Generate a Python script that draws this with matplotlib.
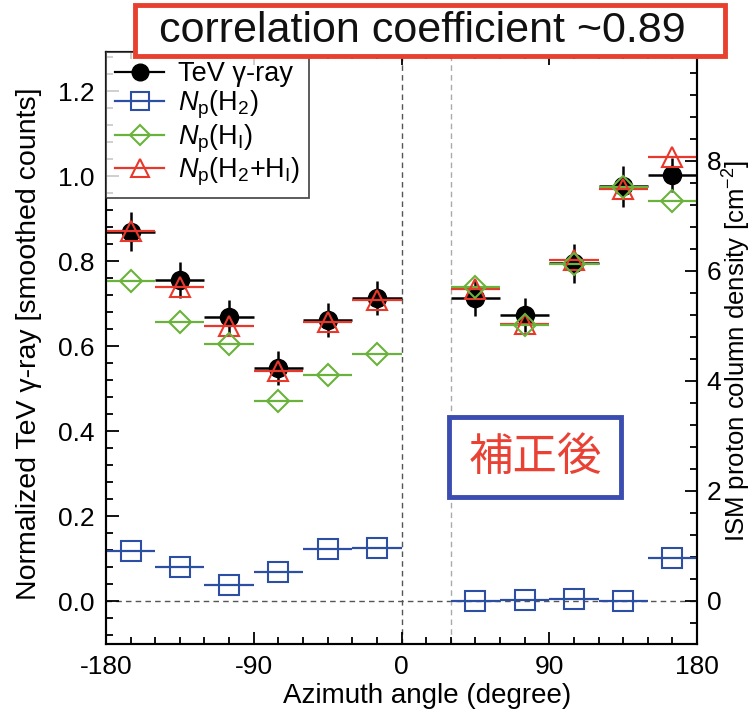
import matplotlib
matplotlib.use("Agg")
import matplotlib.pyplot as plt
from matplotlib.lines import Line2D
from matplotlib.patches import Rectangle
from matplotlib.ticker import MultipleLocator

plt.rcParams['font.family'] = ['Liberation Sans', 'DejaVu Sans']
plt.rcParams['mathtext.fontset'] = 'custom'
plt.rcParams['mathtext.rm'] = 'Liberation Sans'
plt.rcParams['mathtext.it'] = 'Liberation Sans:italic'

# ---- data ----
azimuth = [-165, -135, -105, -75, -45, -15, 45, 75, 105, 135, 165]
bin_half = [15] * 11
tev = [0.869, 0.755, 0.669, 0.548, 0.661, 0.713, 0.713, 0.673, 0.795, 0.976, 1.002]
tev_err = [0.046, 0.042, 0.040, 0.040, 0.040, 0.040, 0.043, 0.041, 0.046, 0.048, 0.040]
np_h2 = [0.91, 0.61, 0.29, 0.53, 0.95, 0.96, 0.00, 0.01, 0.04, 0.00, 0.78]
np_hi = [5.82, 5.08, 4.67, 3.64, 4.11, 4.49, 5.71, 5.02, 6.13, 7.52, 7.27]
np_h2hi = [6.73, 5.71, 4.99, 4.18, 5.08, 5.47, 5.68, 5.04, 6.19, 7.49, 8.08]

xticks = [-180, -90, 0, 90, 180]
left_ticks = [0.0, 0.2, 0.4, 0.6, 0.8, 1.0, 1.2]
right_ticks = [0, 2, 4, 6, 8]

C_BLACK = '#000000'
C_BLUE = '#2d4fa3'
C_GREEN = '#6ab23c'
C_RED = '#e8382c'

W, H = 753, 715
fig = plt.figure(figsize=(W / 100, H / 100), dpi=100)
ax = fig.add_axes([106 / W, (H - 644) / H, 591 / W, 592 / H])
ax2 = ax.twinx()

ax.set_xlim(-180, 180)
ax.set_ylim(-0.101, 1.292)
ax2.set_ylim(-0.782, 9.98)

# reference lines
ax.axhline(0, color='#555555', ls=(0, (4, 3)), lw=1.0, zorder=1)
ax.axvline(0, color='#555555', ls=(0, (4, 3)), lw=1.0, zorder=1)
ax.axvline(30, color='#aaaaaa', ls=(0, (4, 3)), lw=1.0, zorder=1)

ax.errorbar(azimuth, tev, xerr=bin_half, yerr=tev_err, fmt='o', color=C_BLACK,
            ms=13, elinewidth=1.8, capsize=0, zorder=3)
ax2.errorbar(azimuth, np_h2, xerr=bin_half, fmt='s', color=C_BLUE, mfc='none',
             mec=C_BLUE, ms=14, mew=1.5, elinewidth=1.6, capsize=0)
ax2.errorbar(azimuth, np_h2hi, xerr=bin_half, fmt='^', color=C_RED, mfc='none',
             mec=C_RED, ms=14, mew=1.5, elinewidth=1.6, capsize=0)
ax2.errorbar(azimuth, np_hi, xerr=bin_half, fmt='D', color=C_GREEN, mfc='none',
             mec=C_GREEN, ms=11, mew=1.5, elinewidth=1.6, capsize=0)

# ticks
ax.set_xticks(xticks)
ax.set_xticklabels(['-180', '-90', '0', '90', '180'])
ax.xaxis.set_minor_locator(MultipleLocator(15))
ax.set_yticks(left_ticks)
ax.set_yticklabels(['%.1f' % v for v in left_ticks])
ax.yaxis.set_minor_locator(MultipleLocator(0.04))
ax2.set_yticks(right_ticks)
ax2.yaxis.set_minor_locator(MultipleLocator(0.4))

ax.tick_params(axis='x', which='both', direction='in', top=True, bottom=True,
               labelsize=19, pad=8, width=1.3)
ax.tick_params(axis='y', which='both', direction='in', left=True, right=False,
               labelsize=19, pad=8, width=1.3)
ax.tick_params(which='major', length=9)
ax.tick_params(which='minor', length=5)
ax2.tick_params(axis='y', which='both', direction='in', labelsize=19, pad=7, width=1.3)
ax2.tick_params(which='major', length=9)
ax2.tick_params(which='minor', length=5)
for a in (ax, ax2):
    for s in a.spines.values():
        s.set_linewidth(1.5)

ax.set_xlabel('Azimuth angle (degree)', fontsize=20)
ax.xaxis.set_label_coords(0.543, -0.066)
ax.set_ylabel('Normalized TeV γ-ray [smoothed counts]', fontsize=20.5)
ax.yaxis.set_label_coords(-0.108, 0.507)
ax2.set_ylabel(r'ISM proton column density [cm$^{-2}$]', fontsize=18.5)
ax2.yaxis.set_label_coords(1.041, 0.495)

# legend
handles = [
    Line2D([], [], color=C_BLACK, marker='o', ms=12, lw=1.6),
    Line2D([], [], color=C_BLUE, marker='s', ms=13, mfc='none', mew=1.5, lw=1.6),
    Line2D([], [], color=C_GREEN, marker='D', ms=10, mfc='none', mew=1.5, lw=1.6),
    Line2D([], [], color=C_RED, marker='^', ms=13, mfc='none', mew=1.5, lw=1.6),
]
labels = ['TeV γ-ray', r'$N_{\rm p}$(H$_2$)', r'$N_{\rm p}$(H$_{\rm I}$)',
          r'$N_{\rm p}$(H$_2$+H$_{\rm I}$)']
leg = ax2.legend(handles, labels, loc='upper left', bbox_to_anchor=(0, 1),
                 borderaxespad=0.0, fontsize=19.5, frameon=True, fancybox=False,
                 handlelength=1.8, handletextpad=0.5, labelspacing=0.05,
                 borderpad=0.35)
leg.get_frame().set_edgecolor('#222222')
leg.get_frame().set_linewidth(1.3)

# title box
fig.patches.append(Rectangle((135 / W, (H - 56) / H), 590 / W, 51 / H,
                             transform=fig.transFigure, facecolor='white',
                             edgecolor='#e8402f', lw=3.5, zorder=10))
fig.text(422 / W, (H - 31) / H, 'correlation coefficient ~0.89', fontsize=31,
         ha='center', va='center', color='#111111', zorder=11)

# 補正後 box
fig.patches.append(Rectangle((449 / W, (H - 497) / H), 172 / W, 80 / H,
                             transform=fig.transFigure, facecolor='white',
                             edgecolor='#3b4db0', lw=3.5, zorder=10))
fig.text(535 / W, (H - 457) / H, '補正後', fontsize=32, ha='center', va='center',
         color='#ea4135', family=['Noto Sans CJK JP', 'DejaVu Sans'], zorder=11)

fig.savefig('out.png', dpi=100)
